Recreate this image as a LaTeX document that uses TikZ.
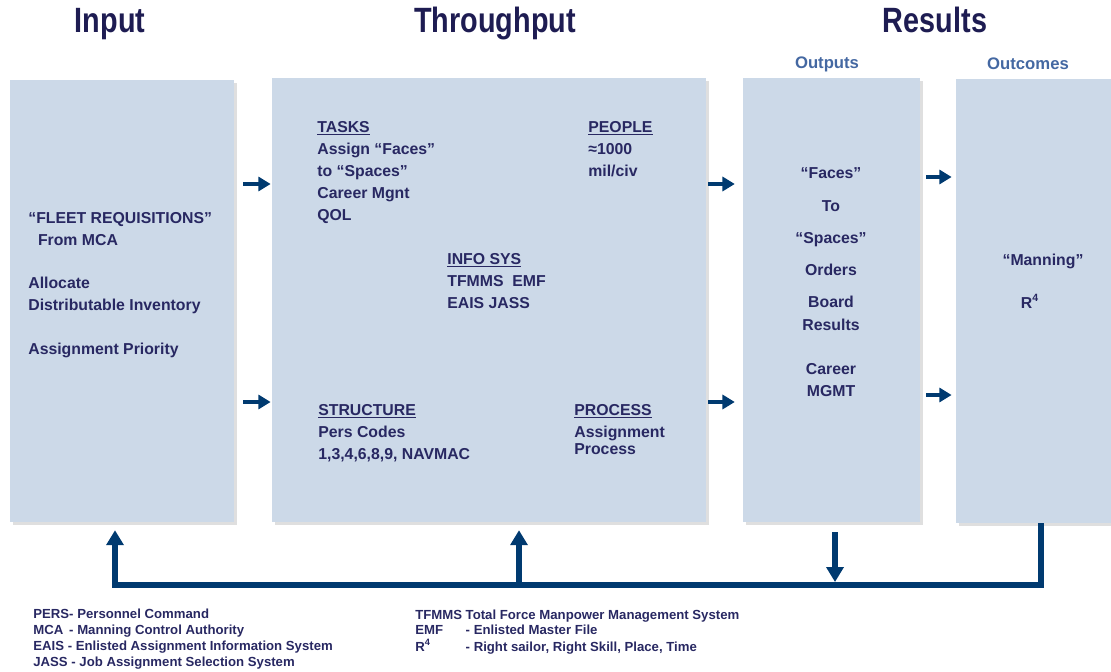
\documentclass[tikz,border=0pt]{standalone}
\usepackage{fontspec}
\setmainfont{Liberation Sans}
\usetikzlibrary{arrows.meta, shadows}

\definecolor{boxfill}{RGB}{204,217,232}
\definecolor{navytext}{RGB}{40,40,98}
\definecolor{titlenavy}{RGB}{30,28,82}
\definecolor{headblue}{RGB}{68,104,162}
\definecolor{flowblue}{RGB}{0,58,112}

\newcommand{\slimtext}[1]{\scalebox{0.82}[1]{#1}}

\begin{document}
\begin{tikzpicture}[
    x=0.02cm, y=-0.02cm,
    >={Triangle[length=7pt, width=8pt]},
    panel/.style={fill=boxfill, inner sep=0pt,
        drop shadow={shadow xshift=1.5pt, shadow yshift=-1.5pt, opacity=0.25}},
    title/.style={font=\bfseries\fontsize{20}{24}\selectfont, text=titlenavy, anchor=base},
    head/.style={font=\bfseries\fontsize{9.5}{11}\selectfont, text=headblue},
    body/.style={font=\bfseries\fontsize{9}{12.5}\selectfont, text=navytext,
        inner sep=0pt, align=left, anchor=base west},
    flow/.style={->, flowblue, line width=2.8pt},
    feedback/.style={flowblue, line width=3.4pt, line join=miter,
        >={Triangle[length=8.5pt, width=9.6pt]}},
    keytext/.style={font=\bfseries\fontsize{7.5}{9}\selectfont, text=navytext,
        inner sep=0pt, align=left, anchor=base west}
]

\useasboundingbox (0,0) rectangle (1111,672);

% --- Column titles ---
\node[title] (tin)  at (110,33) {\slimtext{Input}};
\node[title] (tthr) at (495,33) {\slimtext{Throughput}};
\node[title] (tres) at (935,33) {\slimtext{Results}};
\node[head] (outputs)  at (827,64) {Outputs};
\node[head] (outcomes) at (1028,64) {Outcomes};

% --- Panels ---
\node[panel, minimum width=4.48cm, minimum height=8.84cm] (inbox)  at (122,301) {};
\node[panel, minimum width=8.68cm, minimum height=8.88cm] (thrbox) at (489,300) {};
\node[panel, minimum width=3.54cm, minimum height=8.88cm] (outbox) at (831.5,300) {};
\node[panel, minimum width=3.38cm, minimum height=8.88cm] (endbox) at (1040.5,301) {};

% --- Input text (placed by the base of the last line) ---
\node[body] (fleet) at (28,354)
    {“FLEET REQUISITIONS”\\\hspace*{5.5pt}From MCA\\[12pt]Allocate\\Distributable Inventory\\[12pt]Assignment Priority};

% --- Throughput text ---
\node[body] (tasks) at (317,220)
    {\underline{TASKS}\\Assign “Faces”\\to “Spaces”\\Career Mgnt\\QOL};
\node[body] (people) at (588,176)
    {\underline{PEOPLE}\\≈1000\\mil/civ};
\node[body] (infosys) at (447,308)
    {\underline{INFO SYS}\\TFMMS\ \ EMF\\EAIS JASS};
\node[body] (structure) at (318,459)
    {\underline{STRUCTURE}\\Pers Codes\\1,3,4,6,8,9, NAVMAC};
\node[body] (process) at (574,454)
    {\underline{PROCESS}\\Assignment\\[-2.9pt]Process};

% --- Results text ---
\node[body, align=center, anchor=base] (faces) at (831,396)
    {“Faces”\\[6.2pt]To\\[5.7pt]“Spaces”\\[5.7pt]Orders\\[5.7pt]Board\\[1pt]Results\\[12pt]Career\\MGMT};
\node[body, anchor=base] (manning) at (1043,265) {“Manning”};
\node[body, anchor=base] (rfour) at (1030,308) {R\textsuperscript{4}};

% --- Flow arrows between panels ---
\coordinate (rowA) at (0,184);
\coordinate (rowB) at (0,402);
\coordinate (rowC) at (0,177);
\coordinate (rowD) at (0,395);
\draw[flow, shorten <=5.1pt, shorten >=0.6pt] (inbox.east |- rowA) -- (thrbox.west |- rowA);
\draw[flow, shorten <=5.1pt, shorten >=0.6pt] (inbox.east |- rowB) -- (thrbox.west |- rowB);
\draw[flow, shorten <=1.1pt, shorten >=4.5pt] (thrbox.east |- rowA) -- (outbox.west |- rowA);
\draw[flow, shorten <=1.1pt, shorten >=4.5pt] (thrbox.east |- rowB) -- (outbox.west |- rowB);
\draw[flow, shorten <=3.4pt, shorten >=2.3pt] (outbox.east |- rowC) -- (endbox.west |- rowC);
\draw[flow, shorten <=3.4pt, shorten >=2.3pt] (outbox.east |- rowD) -- (endbox.west |- rowD);

% --- Feedback loop ---
\coordinate (fbL) at (115,585);
\coordinate (fbM) at (519,585);
\coordinate (fbD) at (835,585);
\draw[feedback, ->, shorten >=4.5pt] (endbox.south) |- (fbL) -- (fbL |- inbox.south);
\draw[feedback, ->, shorten >=4.5pt] (fbM) -- (fbM |- thrbox.south);
\draw[feedback, ->, shorten <=5.7pt, shorten >=1.7pt] (fbD |- outbox.south) -- (fbD);

% --- Legend ---
\node[keytext] (keyleft) at (33,666)
    {PERS- Personnel Command\\MCA\ \,- Manning Control Authority\\EAIS\ - Enlisted Assignment Information System\\JASS - Job Assignment Selection System};
\node[keytext] (keyright) at (415,619)
    {\begin{tabular}[t]{@{}l@{\hspace{2pt}}l@{}}
     TFMMS & Total Force Manpower Management System\\
     EMF & - Enlisted Master File\\
     R\textsuperscript{4} & - Right sailor, Right Skill, Place, Time
     \end{tabular}};

\end{tikzpicture}
\end{document}
